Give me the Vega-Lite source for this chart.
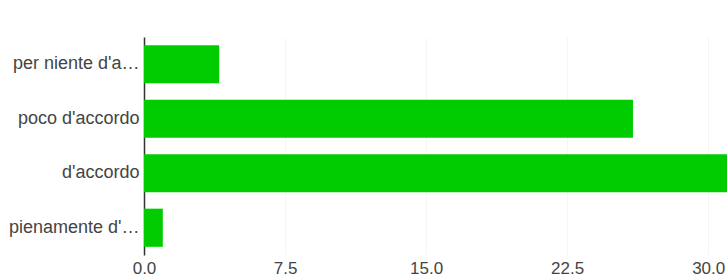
{
  "$schema": "https://vega.github.io/schema/vega-lite/v6.json",
  "width": 583,
  "height": 218,
  "autosize": {"type": "none"},
  "padding": {"left": 144, "top": 37, "right": 0, "bottom": 22},
  "background": "white",
  "config": {"view": {"stroke": null}, "font": "Liberation Sans"},
  "data": {"values": [
    {"risposta": "per niente d'accordo", "conteggio": 4},
    {"risposta": "poco d'accordo", "conteggio": 26},
    {"risposta": "d'accordo", "conteggio": 31},
    {"risposta": "pienamente d'accordo", "conteggio": 1}
  ]},
  "mark": {"type": "bar", "color": "#00cc00"},
  "encoding": {
    "y": {
      "field": "risposta", "type": "nominal", "sort": null,
      "scale": {"paddingInner": 0.3, "paddingOuter": 0.15},
      "axis": {"title": null, "ticks": false, "domainColor": "#333333", "domainWidth": 1.5,
               "labelFontSize": 18, "labelColor": "#444444", "labelPadding": 5, "labelLimit": 131.5, "grid": false}
    },
    "x": {
      "field": "conteggio", "type": "quantitative",
      "scale": {"domain": [0, 31], "nice": false},
      "axis": {"title": null, "values": [0, 7.5, 15, 22.5, 30], "format": ".1f", "ticks": false, "domain": false,
               "grid": true, "gridColor": "#f5f5f5", "labelFontSize": 17, "labelColor": "#444444", "labelPadding": 5,
               "labelFlush": false}
    }
  }
}
